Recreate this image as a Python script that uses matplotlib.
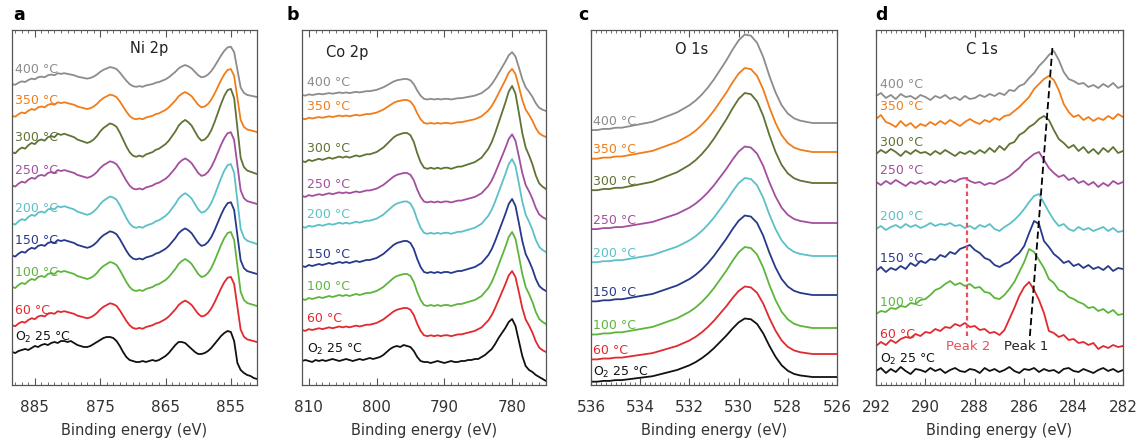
import numpy as np
import matplotlib.pyplot as plt
from matplotlib.ticker import MultipleLocator

temps = ['400 °C', '350 °C', '300 °C', '250 °C', '200 °C', '150 °C', '100 °C', '60 °C', 'O$_2$ 25 °C']
colors = ['#8c8c8c', '#f07d1a', '#5f7334', '#a24f9e', '#5cc0c8', '#27398a', '#5db53c', '#e02a2f', '#111111']

# ---- Ni 2p (a), 889 -> 851 eV, 0.5 eV step
ni_energy = np.linspace(889, 851, 77)
ni_profile = [17, 19, 18, 21, 23, 22, 25, 27, 26, 29,
              30, 29, 32, 33, 32, 35, 34, 35, 34, 33,
              32, 30, 29, 28, 27, 28, 30, 33, 37, 40,
              42, 44, 43, 41, 36, 30, 24, 19, 16, 15,
              16, 15, 17, 18, 19, 21, 22, 24, 26, 29,
              33, 37, 42, 45, 47, 45, 42, 37, 32, 29,
              30, 33, 38, 45, 53, 61, 68, 73, 74, 66,
              40, 14, 6, 3, 2, 1, 0]
ni_profile_25 = [25, 27, 26, 28, 29, 30, 29, 31, 33, 32,
                 34, 35, 34, 36, 37, 36, 38, 38, 37, 38,
                 36, 34, 33, 32, 32, 33, 35, 37, 39, 41,
                 42, 42, 41, 38, 33, 27, 22, 19, 18, 17,
                 17, 18, 17, 18, 19, 18, 19, 21, 23, 26,
                 30, 34, 37, 37, 36, 33, 30, 27, 25, 25,
                 26, 28, 31, 35, 39, 43, 46, 48, 47, 38,
                 16, 9, 6, 4, 3, 1, 0]
ni_offset = [288, 253, 211, 181, 141, 111, 79, 43, 6]
ni_scale = [0.68, 0.85, 1.15, 0.97, 1.08, 0.97, 1.0, 0.88, 1.0]

# ---- Co 2p (b), 811 -> 775 eV, 0.5 eV step
co_energy = np.linspace(811, 775, 73)
co_profile = [25, 24, 26, 25, 26, 27, 26, 27, 28, 27,
              28, 29, 28, 29, 28, 29, 30, 29, 30, 31,
              31, 32, 33, 35, 37, 40, 43, 46, 48, 49,
              50, 50, 48, 42, 32, 24, 19, 18, 19, 18,
              19, 18, 19, 19, 18, 19, 20, 20, 21, 22,
              23, 24, 26, 28, 32, 36, 42, 50, 59, 68,
              77, 87, 92, 85, 68, 50, 37, 30, 22, 12,
              5, 2, 0]
co_profile_25 = [20, 21, 20, 19, 21, 20, 21, 20, 21, 22,
                 21, 20, 21, 22, 21, 20, 21, 22, 21, 22,
                 23, 22, 23, 24, 26, 29, 32, 34, 35, 34,
                 36, 35, 34, 30, 24, 20, 19, 19, 18, 19,
                 20, 19, 18, 19, 20, 19, 19, 20, 20, 21,
                 21, 22, 22, 24, 26, 29, 32, 37, 43, 48,
                 53, 59, 62, 55, 40, 25, 15, 11, 9, 6,
                 4, 2, 0]
co_offset = [274, 248, 196, 166, 133, 94, 61, 33, 4]
co_scale = [0.64, 0.74, 1.12, 0.92, 1.01, 1.0, 1.0, 0.88, 1.0]

# ---- O 1s (c), 536 -> 526 eV, 0.25 eV step
o_energy = np.linspace(536, 526, 41)
o_profile = [-6, -6, -5, -5, -4, -4, -3, -2, -1, 0,
             1, 3, 5, 7, 9, 12, 15, 19, 24, 30,
             37, 45, 53, 62, 70, 75, 74, 68, 56, 40,
             26, 15, 8, 4, 2, 1, 0, 0, 0, 0,
             0]
o_offset = [262, 233, 202, 162, 129, 90, 57, 31, 8]
o_scale = [1.18, 1.12, 1.2, 1.02, 1.04, 1.06, 1.08, 0.9, 0.78]

# ---- C 1s (d), 292 -> 282 eV, 0.2 eV step
c_energy = np.linspace(292, 282, 51)
c_400 = [3, 6, 1, 4, 0, 5, 2, 3, 0, 4,
         2, -1, 3, 1, 4, 0, 2, -1, 3, 0,
         1, 4, 2, 5, 3, 6, 4, 9, 8, 13,
         15, 21, 26, 33, 38, 44, 48, 39, 27, 20,
         18, 15, 16, 12, 14, 11, 15, 12, 16, 11,
         13]
c_350 = [5, 9, 2, 0, -3, 3, -2, 1, -4, 0,
         -2, 2, -1, 3, 0, 4, 1, -2, 2, 5,
         2, 0, 4, 2, 6, 4, 8, 9, 13, 17,
         22, 27, 35, 40, 45, 48, 44, 34, 20, 12,
         7, 9, 4, 7, 3, 6, 4, 8, 5, 10,
         7]
c_300 = [0, 4, 1, 5, 2, -2, 3, 0, 4, 1,
         2, -1, 3, 0, 4, 1, -2, 2, 0, 3,
         0, 4, 1, 6, 2, 8, 4, 10, 12, 19,
         22, 27, 30, 35, 38, 34, 24, 15, 11, 6,
         9, 3, 7, 1, 5, 0, 6, 2, 7, 1,
         3]
c_250 = [2, -1, 3, 0, 4, 1, -2, 2, 0, 3,
         0, 2, -1, 3, 1, 4, 2, 5, 6, 3,
         1, 2, -1, 1, 0, 3, 5, 8, 12, 16,
         22, 26, 30, 32, 24, 16, 11, 7, 9, 4,
         6, 1, 3, -1, 2, -3, 1, -2, 3, 0,
         2]
c_200 = [0, 3, -1, 2, 4, 1, 5, 2, 4, 1,
         3, 6, 3, 5, 4, 6, 3, 4, 1, 3,
         0, 4, 2, 5, 0, -2, 2, 5, 9, 14,
         20, 27, 33, 35, 26, 17, 9, 3, 5, 0,
         -2, 2, -1, 1, -2, 0, 2, -2, 1, -3,
         -2]
c_150 = [0, 4, -1, 3, 1, 5, 2, 8, 5, 10,
         8, 12, 11, 16, 14, 19, 17, 22, 24, 26,
         21, 18, 13, 11, 6, 4, 7, 9, 14, 18,
         25, 38, 50, 47, 30, 24, 17, 13, 8, 10,
         5, 7, 3, 6, 2, 4, 1, 5, 0, 3,
         2]
c_100 = [0, 3, 2, 6, 5, 8, 7, 11, 10, 14,
         15, 19, 24, 26, 30, 33, 29, 31, 28, 30,
         26, 27, 22, 21, 16, 15, 19, 25, 32, 42,
         52, 65, 62, 54, 46, 35, 31, 24, 22, 17,
         15, 12, 10, 6, 7, 3, 5, 1, 4, -1,
         0]
c_60 = [0, 4, 1, 6, 3, 7, 9, 8, 12, 10,
        14, 13, 17, 15, 19, 18, 22, 20, 23, 19,
        20, 16, 17, 13, 14, 11, 16, 27, 38, 50,
        59, 64, 56, 46, 33, 15, 13, 9, 11, 6,
        7, 3, 4, 1, 3, -3, 0, -2, 1, -1,
        0]
c_25 = [0, 3, -2, 2, -1, 4, 0, -3, 2, 1,
        -1, 3, 0, 2, -2, 1, 3, 0, -1, 2,
        1, -2, 3, 0, 2, -1, 1, 4, 0, -2,
        2, 1, 3, -1, 2, 0, 1, -2, 2, 3,
        0, -1, 2, 0, -2, 1, 3, 0, 2, -1,
        1]
c_curves = [c_400, c_350, c_300, c_250, c_200, c_150, c_100, c_60, c_25]
c_offset = [286, 261, 231, 201, 156, 114, 71, 39, 14]

peak2_energy = 288.3
peak1_energy = [285.77, 284.85]

plt.rcParams['font.family'] = 'DejaVu Sans'
fig = plt.figure(figsize=(11.36, 4.39), dpi=100)

W, H = 1136, 439
top_px, bot_px = 31, 386
rects = [(12, 245), (302, 244), (591, 246), (876, 247)]
xlims = [(888.5, 851), (811, 775), (536, 526), (292, 282)]
majors = [(10, 5), (10, 0), (2, 0), (2, 0)]
minors = [1, 1, 0.2, 0.2]
titles = ['Ni 2p', 'Co 2p', 'O 1s', 'C 1s']
title_pos = [(867.5, 338), (804.3, 334), (531.9, 337), (287.7, 336)]
letters = ['a', 'b', 'c', 'd']
letter_px = [13, 287, 578, 875]
label_x = [0.012, 0.02, 0.01, 0.016]
label_gap = [16, 13, 10, 13]

axes = []
for i, (l, w) in enumerate(rects):
    ax = fig.add_axes([l / W, 1 - bot_px / H, w / W, (bot_px - top_px) / H])
    ax.set_xlim(*xlims[i])
    ax.set_ylim(0, bot_px - top_px)
    ax.xaxis.set_major_locator(MultipleLocator(majors[i][0], offset=majors[i][1]))
    ax.xaxis.set_minor_locator(MultipleLocator(minors[i]))
    ax.tick_params(axis='x', which='both', direction='in', top=True, bottom=True,
                   color='#555555', labelsize=11, labelcolor='#333333', pad=10)
    ax.tick_params(axis='x', which='major', length=5, width=0.8)
    ax.tick_params(axis='x', which='minor', length=2.5, width=0.6)
    ax.tick_params(axis='y', left=False, labelleft=False)
    for s in ax.spines.values():
        s.set_color('#555555')
        s.set_linewidth(0.9)
    ax.set_xlabel('Binding energy (eV)', fontsize=10.5, color='#333333', labelpad=6)
    ax.text(*title_pos[i], titles[i], fontsize=10.5, color='#222222', ha='center', va='center')
    fig.text(letter_px[i] / W, 1 - 15 / H, letters[i], fontsize=12.5, fontweight='bold',
             ha='left', va='center')
    axes.append(ax)

# a: Ni 2p
ax = axes[0]
for k in range(9):
    prof = ni_profile_25 if k == 8 else ni_profile
    y = ni_offset[k] + ni_scale[k] * np.array(prof)
    ax.plot(ni_energy, y, color=colors[k], lw=1.3)
    left = np.interp(888.5, ni_energy[::-1], y[::-1])
    ax.text(label_x[0], left + label_gap[0], temps[k], color=colors[k], fontsize=9,
            transform=ax.get_yaxis_transform(), va='center', ha='left')

# b: Co 2p
ax = axes[1]
for k in range(9):
    prof = co_profile_25 if k == 8 else co_profile
    y = co_offset[k] + co_scale[k] * np.array(prof)
    ax.plot(co_energy, y, color=colors[k], lw=1.3)
    ax.text(label_x[1], y[0] + label_gap[1], temps[k], color=colors[k], fontsize=9,
            transform=ax.get_yaxis_transform(), va='center', ha='left')

# c: O 1s
ax = axes[2]
for k in range(9):
    y = o_offset[k] + o_scale[k] * np.array(o_profile)
    ax.plot(o_energy, y, color=colors[k], lw=1.3)
    ax.text(label_x[2], y[0] + label_gap[2], temps[k], color=colors[k], fontsize=9,
            transform=ax.get_yaxis_transform(), va='center', ha='left')

# d: C 1s
ax = axes[3]
for k in range(9):
    y = c_offset[k] + np.array(c_curves[k])
    ax.plot(c_energy, y, color=colors[k], lw=1.3)
    ax.text(label_x[3], y[0] + label_gap[3], temps[k], color=colors[k], fontsize=9,
            transform=ax.get_yaxis_transform(), va='center', ha='left')
ax.plot([peak2_energy, peak2_energy], [49, 208], color='#e8505a', lw=1.6, ls=(0, (2, 1.5)))
ax.plot(peak1_energy, [49, 340], color='black', lw=1.3, ls=(0, (4, 2)))
ax.text(288.25, 40, 'Peak 2', color='#e8505a', fontsize=9.5, ha='center', va='center')
ax.text(285.9, 40, 'Peak 1', color='#222222', fontsize=9.5, ha='center', va='center')

fig.savefig('out.png', dpi=100)
